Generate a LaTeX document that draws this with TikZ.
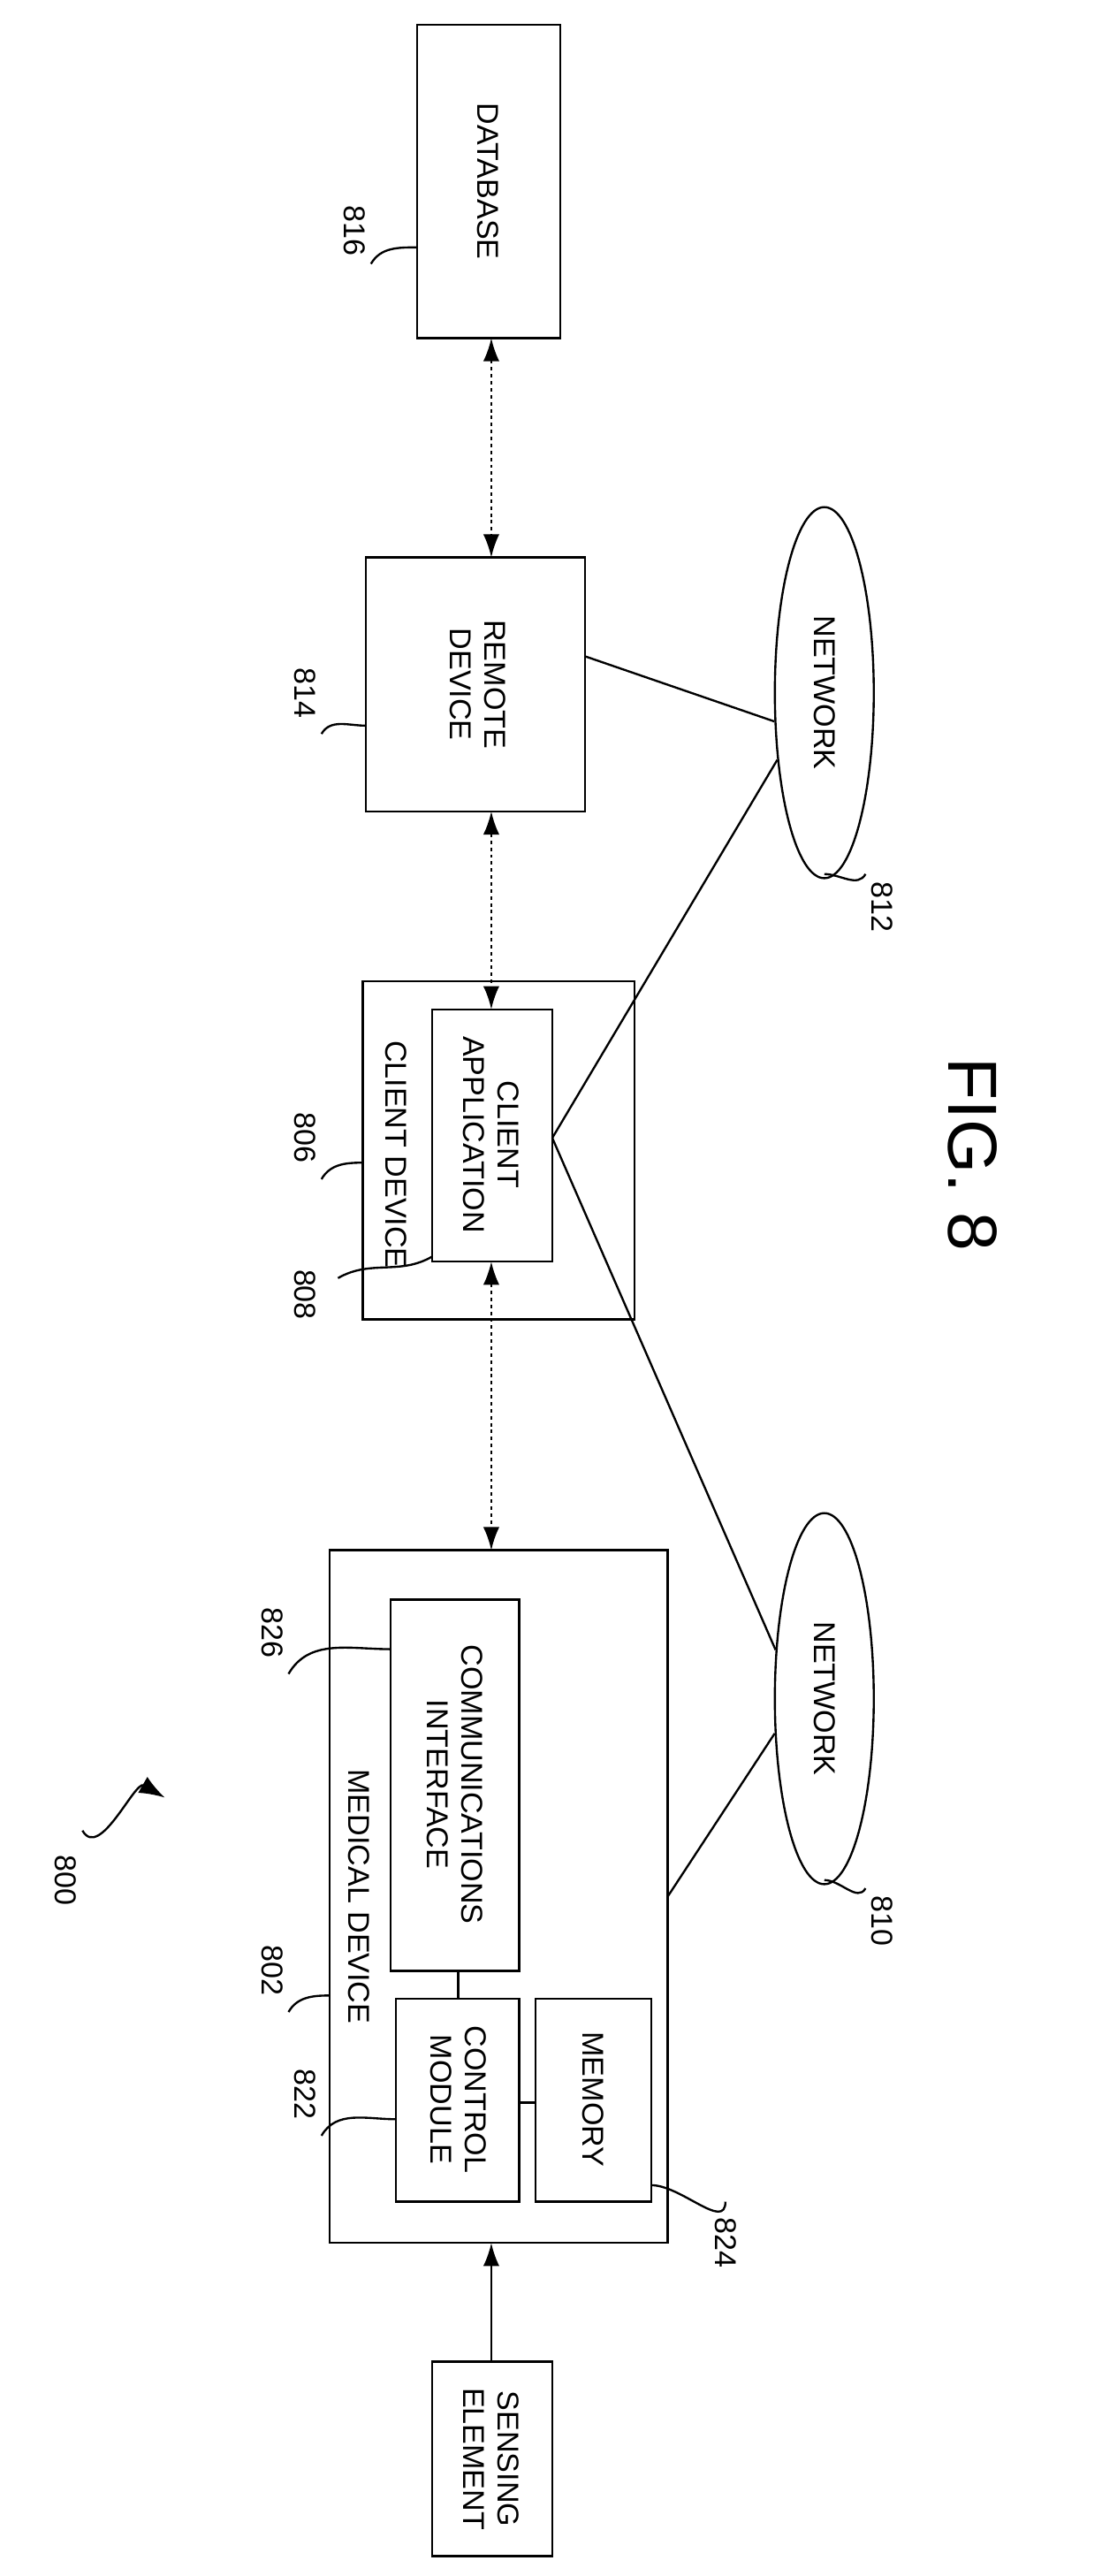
\documentclass[tikz,border=0pt]{standalone}
\usepackage{fontspec}
\setmainfont{Liberation Sans}
\usetikzlibrary{shapes.geometric,arrows.meta}
\begin{document}
\begin{tikzpicture}[x=0.05cm,y=-0.05cm,line width=1.8pt,
  txt/.style={rotate=-90,align=center,font=\fontsize{26}{30}\selectfont},
  lbl/.style={rotate=-90,font=\fontsize{26}{30}\selectfont},
  dlink/.style={dashed,{Latex[length=20pt,width=14pt]}-{Latex[length=20pt,width=14pt]}},
  lead/.style={}]
\useasboundingbox (0,0) rectangle (668,1562);
% boxes
\draw (253,15) rectangle (340,205);
\node[txt] (db) at (296,110) {DATABASE};
\draw (222,338) rectangle (355,492);
\node[txt] (rd) at (290,415) {REMOTE\\DEVICE};
\draw (220,595) rectangle (385,800);
\node[txt] at (240,700) {CLIENT DEVICE};
\draw (262,612) rectangle (335,765);
\node[txt] (ca) at (298,688) {CLIENT\\APPLICATION};
\draw (200,940) rectangle (405,1360);
\node[txt] at (218,1150) {MEDICAL DEVICE};
\draw (237,970) rectangle (315,1195);
\node[txt] (ci) at (276,1082) {COMMUNICATIONS\\INTERFACE};
\draw (240,1212) rectangle (315,1335);
\node[txt] (cm) at (278,1273) {CONTROL\\MODULE};
\draw (325,1212) rectangle (395,1335);
\node[txt] (mem) at (360,1273) {MEMORY};
\draw (262,1432) rectangle (335,1550);
\node[txt] (se) at (298,1491) {SENSING\\ELEMENT};
% networks
\node[draw,ellipse,minimum width=60*0.05cm,minimum height=225*0.05cm] (n812) at (500,420) {};
\node[txt] at (500,420) {NETWORK};
\node[draw,ellipse,minimum width=60*0.05cm,minimum height=225*0.05cm] (n810) at (500,1030) {};
\node[txt] at (500,1030) {NETWORK};
% connectors
\draw[dlink] (298,205) -- (298,338);
\draw[dlink] (298,492) -- (298,612);
\draw[dlink] (298,765) -- (298,940);
\draw[-{Latex[length=20pt,width=14pt]}] (298,1432) -- (298,1360);
\draw (278,1195) -- (278,1212);
\draw (315,1275) -- (325,1275);
\draw (355,398) -- (n812.210);
\draw (335,690) -- (n812.235);
\draw (335,690) -- (n810.135);
\draw (405,1150) -- (n810.215);
% labels
\node[lbl] at (215,140) {816};
\draw[lead] (225,160) to[out=60,in=180] (253,150);
\node[lbl] at (185,420) {814};
\draw[lead] (195,445) to[out=60,in=180] (222,440);
\node[lbl] at (185,690) {806};
\draw[lead] (195,715) to[out=60,in=180] (220,705);
\node[lbl] at (185,785) {808};
\draw[lead] (205,775) to[out=30,in=-150] (262,762);
\node[lbl] at (165,1195) {802};
\draw[lead] (175,1220) to[out=60,in=180] (200,1210);
\node[lbl] at (165,990) {826};
\draw[lead] (175,1015) to[out=60,in=180] (237,1000);
\node[lbl] at (185,1270) {822};
\draw[lead] (195,1295) to[out=60,in=180] (240,1285);
\node[lbl] at (440,1360) {824};
\draw[lead] (440,1335) to[out=-90,in=0] (395,1325);
\node[lbl] at (535,1165) {810};
\draw[lead] (525,1145) to[out=-120,in=0] (500,1140);
\node[lbl] at (535,550) {812};
\draw[lead] (525,530) to[out=-120,in=0] (500,530);
\node[lbl] at (40,1140) {800};
\draw[-{Latex[length=22pt,width=16pt]}] (50,1110) to[out=-60,in=150] (100,1090);
\node[rotate=-90,font=\fontsize{60}{70}\selectfont] at (590,700) {FIG. 8};
\end{tikzpicture}
\end{document}
